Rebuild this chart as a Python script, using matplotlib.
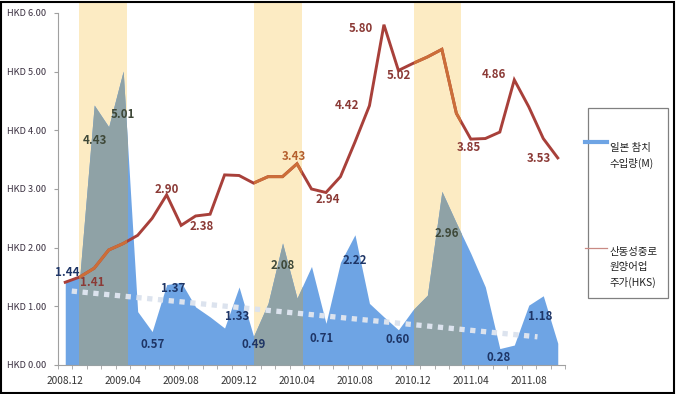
import matplotlib.pyplot as plt
from matplotlib.patches import Rectangle
from matplotlib.lines import Line2D

plt.rcParams['font.family'] = ['Noto Sans CJK KR', 'DejaVu Sans']

# Monthly categories 2008.12 .. 2011.10
months = ['2008.12', '2009.01', '2009.02', '2009.03', '2009.04', '2009.05', '2009.06',
          '2009.07', '2009.08', '2009.09', '2009.10', '2009.11', '2009.12', '2010.01',
          '2010.02', '2010.03', '2010.04', '2010.05', '2010.06', '2010.07', '2010.08',
          '2010.09', '2010.10', '2010.11', '2010.12', '2011.01', '2011.02', '2011.03',
          '2011.04', '2011.05', '2011.06', '2011.07', '2011.08', '2011.09', '2011.10']

# Japan tuna imports (area)
tuna_import = [1.44, 1.50, 4.43, 4.06, 5.01, 0.91, 0.57, 1.37, 1.41, 0.99, 0.82, 0.63,
               1.33, 0.49, 1.05, 2.08, 1.14, 1.68, 0.71, 1.75, 2.22, 1.05, 0.82, 0.60,
               0.94, 1.19, 2.96, 2.42, 1.90, 1.33, 0.28, 0.34, 1.02, 1.18, 0.37]

# Stock price (HKD)
stock_price = [1.41, 1.50, 1.65, 1.96, 2.07, 2.21, 2.50, 2.90, 2.38, 2.54, 2.57, 3.24,
               3.23, 3.10, 3.21, 3.21, 3.43, 3.00, 2.94, 3.21, 3.80, 4.42, 5.80, 5.02,
               5.14, 5.25, 5.38, 4.29, 3.85, 3.86, 3.97, 4.86, 4.40, 3.86, 3.53]

# trend line on imports
trend_x = [0.45, 32.6]
trend_y = [1.26, 0.48]

# highlighted periods (category index)
band_start = [0.97, 13.03, 24.07]
band_end = [4.28, 16.34, 27.31]

tick_labels = ['2008.12', '2009.04', '2009.08', '2009.12', '2010.04',
               '2010.08', '2010.12', '2011.04', '2011.08']

# labelled points: index -> pixel offset of the label
import_labels = {0: (2, 8), 2: (1, -35), 4: (0, -43), 6: (0, -13), 7: (6, -4),
                 12: (-2, -30), 13: (0, -8), 15: (0, -23), 18: (-4, -15),
                 20: (0, -26), 23: (-1, -10), 26: (5, -42), 30: (-1, -9), 33: (-3, -21)}
price_labels = {0: (27, 0), 7: (0, 5), 8: (21, -1), 16: (-3, 7), 18: (2, -7),
                21: (-22, 0), 22: (-23, -4), 23: (0, -5), 28: (-2, -8), 31: (-20, 5),
                34: (-19, -1)}

blue = '#6EA4E4'
grey = '#8FA2A6'
yellow = '#FCEBC3'
red = '#A8403A'
orange = '#CC6E38'

fig = plt.figure(figsize=(6.76, 3.94), dpi=100)
ax = fig.add_axes([58 / 676, 29 / 394, 507 / 676, 362 / 394])

x = list(range(len(months)))


def in_band(i):
    return any(s <= i <= e for s, e in zip(band_start, band_end))


for s, e in zip(band_start, band_end):
    ax.axvspan(s, e, color=yellow, lw=0, zorder=1)

ax.fill_between(x, 0, tuna_import, color=blue, lw=0, zorder=2)
for s, e in zip(band_start, band_end):
    clip = Rectangle((s, 0), e - s, 10, transform=ax.transData)
    poly = ax.fill_between(x, 0, tuna_import, color=grey, lw=0, zorder=3)
    poly.set_clip_path(clip)

ax.plot(trend_x, trend_y, color='#DCE3EE', lw=3.8, dashes=(1.0, 1.05), zorder=4)

ax.plot(x, stock_price, color=red, lw=2.1, zorder=5, solid_joinstyle='miter')
for s, e in zip(band_start, band_end):
    clip = Rectangle((s, 0), e - s, 10, transform=ax.transData)
    ln, = ax.plot(x, stock_price, color=orange, lw=2.1, zorder=6, solid_joinstyle='miter')
    ln.set_clip_path(clip)

for i, (dx, dy) in import_labels.items():
    c = '#3E4838' if in_band(i) else '#1E3566'
    ax.annotate(f'{tuna_import[i]:.2f}', (i, tuna_import[i]), xytext=(dx * 0.72, dy * 0.72),
                textcoords='offset points', ha='center', va='center', fontsize=8.3,
                fontweight='bold', color=c, zorder=7)
for i, (dx, dy) in price_labels.items():
    c = '#B5602E' if in_band(i) else '#8B3A36'
    ax.annotate(f'{stock_price[i]:.2f}', (i, stock_price[i]), xytext=(dx * 0.72, dy * 0.72),
                textcoords='offset points', ha='center', va='center', fontsize=8.3,
                fontweight='bold', color=c, zorder=7)

ax.set_xlim(-0.5, len(months) - 0.5)
ax.set_ylim(0, 6.17)
ax.set_yticks([0, 1, 2, 3, 4, 5, 6])
ax.set_yticklabels([f'HKD {v:.2f}' for v in range(7)], fontsize=6.7, color='#3A3040')
ax.set_xticks(list(range(0, len(months), 4)))
ax.set_xticklabels(tick_labels, fontsize=7.3, color='#333333')
ax.set_xticks([i - 0.5 for i in range(len(months) + 1)], minor=True)
ax.tick_params(axis='x', which='major', length=0, pad=8)
ax.tick_params(axis='x', which='minor', length=3, color='#A0A0A0')
ax.tick_params(axis='y', length=3, color='#A0A0A0', pad=5.5)

for side in ['top', 'right']:
    ax.spines[side].set_visible(False)
ax.spines['left'].set_bounds(0, 6)
ax.spines['left'].set_color('#A0A0A0')
ax.spines['bottom'].set_color('#A0A0A0')
ax.set_facecolor('none')

# legend drawn by hand in pixel positions
def fx(px):
    return px / 676


def fy(py):
    return 1 - py / 394


fig.patches.append(Rectangle((fx(588), fy(298)), fx(668) - fx(588), fy(108) - fy(298),
                             transform=fig.transFigure, fill=False, ec='#808080', lw=0.9))
fig.lines.append(Line2D([fx(585), fx(607)], [fy(142), fy(142)], transform=fig.transFigure,
                        color=blue, lw=3))
fig.lines.append(Line2D([fx(585), fx(607)], [fy(248), fy(248)], transform=fig.transFigure,
                        color='#C98A84', lw=0.9))
for txt, py in [('일본 참치', 148), ('수입량(M)', 163), ('산동성중로', 252),
                ('원양어업', 267), ('주가(HKS)', 282)]:
    fig.text(fx(610), fy(py), txt, fontsize=7.5, color='#222222', va='center', ha='left')

# outer frame
fig.patches.append(Rectangle((0.002, 0.003), 0.995, 0.993, transform=fig.transFigure,
                             fill=False, ec='black', lw=1.5))

fig.savefig('out.png', dpi=100)
